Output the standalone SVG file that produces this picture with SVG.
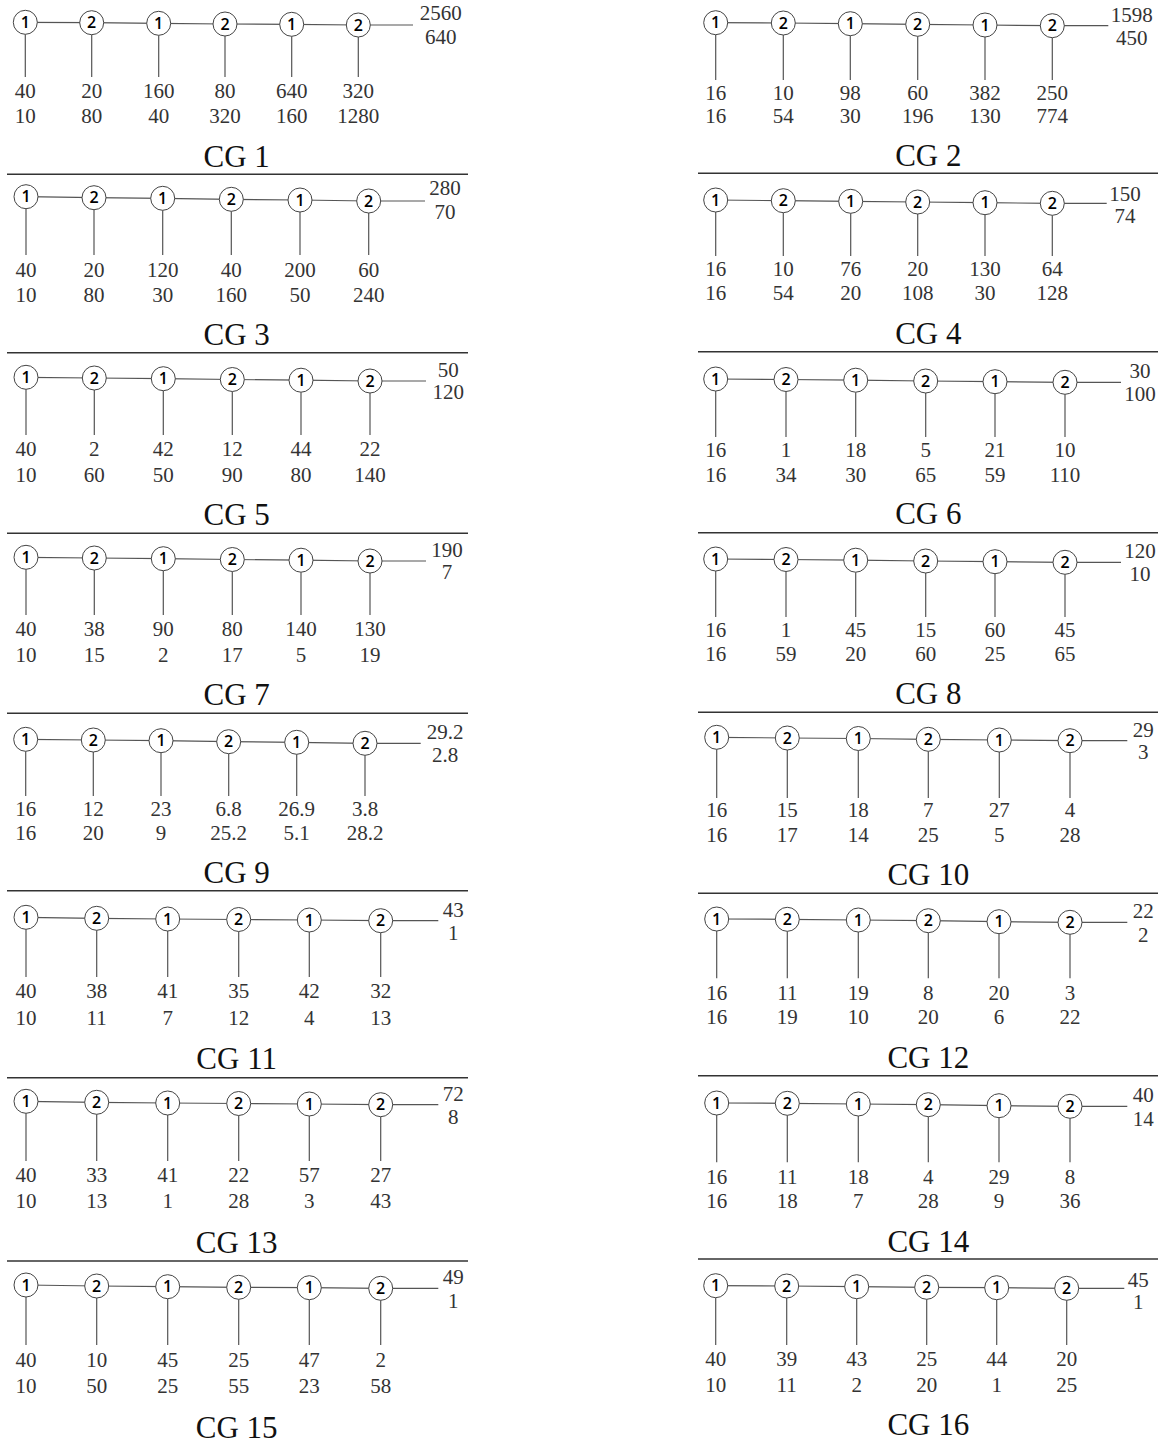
<svg xmlns="http://www.w3.org/2000/svg" width="1165" height="1443" viewBox="0 0 1165 1443">
<style>
.node circle{fill:#fff;stroke:#444;stroke-width:1}
.node text{font-family:"Open Sans","Liberation Sans",sans-serif;font-weight:600;font-size:16px;fill:#000;text-anchor:middle}
.conn path{fill:none;stroke:#555;stroke-width:1.2}
.sep line{stroke:#333;stroke-width:1.5}
.val text{font-family:"Liberation Serif","DejaVu Serif",serif;font-size:21px;fill:#333;text-anchor:middle}
.ttl text{font-family:"Liberation Serif","DejaVu Serif",serif;font-size:31px;fill:#111;text-anchor:middle}
</style>
<rect width="1165" height="1443" fill="#fff"/>
<g class="sep">
<line x1="7" y1="174.3" x2="468" y2="174.3"/><line x1="7" y1="352.7" x2="468" y2="352.7"/><line x1="7" y1="533.3" x2="468" y2="533.3"/><line x1="7" y1="713.3" x2="468" y2="713.3"/><line x1="7" y1="890.7" x2="468" y2="890.7"/><line x1="7" y1="1077.7" x2="468" y2="1077.7"/><line x1="7" y1="1261" x2="468" y2="1261"/>
<line x1="698" y1="173.3" x2="1158" y2="173.3"/><line x1="698" y1="351.7" x2="1158" y2="351.7"/><line x1="698" y1="532.7" x2="1158" y2="532.7"/><line x1="698" y1="712.3" x2="1158" y2="712.3"/><line x1="698" y1="893.3" x2="1158" y2="893.3"/><line x1="698" y1="1075.7" x2="1158" y2="1075.7"/><line x1="698" y1="1259" x2="1158" y2="1259"/>
</g>
<g class="conn" id="connectors">
<path d="M25.3 22.3L91.7 22.7L158.7 23.3L225 24L291.7 24.3L358.3 25L413 25M25.3 34.3V77M91.7 34.7V77M158.7 35.3V77M225 36V77M291.7 36.3V77M358.3 37V77"/>
<path d="M715.7 22.7L783.3 23L850.3 23.7L917.7 24.3L985 25L1052.3 25.7L1108.3 25.7M715.7 34.7V80M783.3 35V80M850.3 35.7V80M917.7 36.3V80M985 37V80M1052.3 37.7V80"/>
<path d="M26 196.7L94 197.7L162.7 198.3L231.3 199.3L300 200L368.7 201L425 201M26 208.7V255M94 209.7V255M162.7 210.3V255M231.3 211.3V255M300 212V255M368.7 213V255"/>
<path d="M715.7 200L783.3 200.7L850.7 201.3L917.7 202L985 202.7L1052.3 203.3L1106.7 203.3M715.7 212V256M783.3 212.7V256M850.7 213.3V256M917.7 214V256M985 214.7V256M1052.3 215.3V256"/>
<path d="M26 377.3L94.3 378L163.3 378.7L232.3 379.5L301 380.2L370 381L426 381M26 389.3V435M94.3 390V435M163.3 390.7V435M232.3 391.5V435M301 392.2V435M370 393V435"/>
<path d="M715.7 379L786 379.5L855.7 380.2L925.7 381L995 381.7L1065 382.3L1121 382.3M715.7 391V437M786 391.5V437M855.7 392.2V437M925.7 393V437M995 393.7V437M1065 394.3V437"/>
<path d="M26 557.3L94.3 558L163.3 558.7L232.3 559.5L301 560.2L370 561L426 561M26 569.3V615M94.3 570V615M163.3 570.7V615M232.3 571.5V615M301 572.2V615M370 573V615"/>
<path d="M715.7 559L786 559.5L855.7 560.2L925.7 561L995 561.7L1065 562.3L1121 562.3M715.7 571V617M786 571.5V617M855.7 572.2V617M925.7 573V617M995 573.7V617M1065 574.3V617"/>
<path d="M25.7 739.3L93.3 740L161 740.7L228.7 741.7L296.7 742.3L365 743.3L420.7 743.3M25.7 751.3V796M93.3 752V796M161 752.7V796M228.7 753.7V796M296.7 754.3V796M365 755.3V796"/>
<path d="M716.7 737.3L787.3 738L858.3 738.5L928.3 739.3L999.3 740L1070 740.7L1127.3 740.7M716.7 749.3V798M787.3 750V798M858.3 750.5V798M928.3 751.3V798M999.3 752V798M1070 752.7V798"/>
<path d="M26 917.3L96.7 918.3L167.7 919L238.7 919.5L309.3 920L380.7 920.7L438.3 920.7M26 929.3V977M96.7 930.3V977M167.7 931V977M238.7 931.5V977M309.3 932V977M380.7 932.7V977"/>
<path d="M716.7 919L787.3 919.3L858.3 920L928.3 920.7L999 921.7L1070 922.3L1127.3 922.3M716.7 931V978.3M787.3 931.3V978.3M858.3 932V978.3M928.3 932.7V978.3M999 933.7V978.3M1070 934.3V978.3"/>
<path d="M26 1101.3L96.7 1102.3L167.7 1103L238.7 1103.5L309.3 1104L380.7 1104.7L438.3 1104.7M26 1113.3V1161M96.7 1114.3V1161M167.7 1115V1161M238.7 1115.5V1161M309.3 1116V1161M380.7 1116.7V1161"/>
<path d="M716.7 1103L787.3 1103.3L858.3 1104L928.3 1104.7L999 1105.7L1070 1106.3L1127.3 1106.3M716.7 1115V1162.3M787.3 1115.3V1162.3M858.3 1116V1162.3M928.3 1116.7V1162.3M999 1117.7V1162.3M1070 1118.3V1162.3"/>
<path d="M26 1285L96.7 1286L167.7 1286.7L238.7 1287.3L309.3 1287.7L380.7 1288.3L438.3 1288.3M26 1297V1345M96.7 1298V1345M167.7 1298.7V1345M238.7 1299.3V1345M309.3 1299.7V1345M380.7 1300.3V1345"/>
<path d="M715.7 1285.7L786.7 1286L856.7 1286.7L926.7 1287.3L996.7 1287.7L1066.7 1288.3L1124.3 1288.3M715.7 1297.7V1345M786.7 1298V1345M856.7 1298.7V1345M926.7 1299.3V1345M996.7 1299.7V1345M1066.7 1300.3V1345"/>
</g>
<g id="nodes">
<g id="cg1-n1" class="node"><circle cx="25.3" cy="22.3" r="12"/><text x="25.3" y="28">1</text></g>
<g id="cg1-n2" class="node"><circle cx="91.7" cy="22.7" r="12"/><text x="91.7" y="28.4">2</text></g>
<g id="cg1-n3" class="node"><circle cx="158.7" cy="23.3" r="12"/><text x="158.7" y="29">1</text></g>
<g id="cg1-n4" class="node"><circle cx="225" cy="24" r="12"/><text x="225" y="29.7">2</text></g>
<g id="cg1-n5" class="node"><circle cx="291.7" cy="24.3" r="12"/><text x="291.7" y="30">1</text></g>
<g id="cg1-n6" class="node"><circle cx="358.3" cy="25" r="12"/><text x="358.3" y="30.7">2</text></g>
<g id="cg2-n1" class="node"><circle cx="715.7" cy="22.7" r="12"/><text x="715.7" y="28.4">1</text></g>
<g id="cg2-n2" class="node"><circle cx="783.3" cy="23" r="12"/><text x="783.3" y="28.7">2</text></g>
<g id="cg2-n3" class="node"><circle cx="850.3" cy="23.7" r="12"/><text x="850.3" y="29.4">1</text></g>
<g id="cg2-n4" class="node"><circle cx="917.7" cy="24.3" r="12"/><text x="917.7" y="30">2</text></g>
<g id="cg2-n5" class="node"><circle cx="985" cy="25" r="12"/><text x="985" y="30.7">1</text></g>
<g id="cg2-n6" class="node"><circle cx="1052.3" cy="25.7" r="12"/><text x="1052.3" y="31.4">2</text></g>
<g id="cg3-n1" class="node"><circle cx="26" cy="196.7" r="12"/><text x="26" y="202.4">1</text></g>
<g id="cg3-n2" class="node"><circle cx="94" cy="197.7" r="12"/><text x="94" y="203.4">2</text></g>
<g id="cg3-n3" class="node"><circle cx="162.7" cy="198.3" r="12"/><text x="162.7" y="204">1</text></g>
<g id="cg3-n4" class="node"><circle cx="231.3" cy="199.3" r="12"/><text x="231.3" y="205">2</text></g>
<g id="cg3-n5" class="node"><circle cx="300" cy="200" r="12"/><text x="300" y="205.7">1</text></g>
<g id="cg3-n6" class="node"><circle cx="368.7" cy="201" r="12"/><text x="368.7" y="206.7">2</text></g>
<g id="cg4-n1" class="node"><circle cx="715.7" cy="200" r="12"/><text x="715.7" y="205.7">1</text></g>
<g id="cg4-n2" class="node"><circle cx="783.3" cy="200.7" r="12"/><text x="783.3" y="206.4">2</text></g>
<g id="cg4-n3" class="node"><circle cx="850.7" cy="201.3" r="12"/><text x="850.7" y="207">1</text></g>
<g id="cg4-n4" class="node"><circle cx="917.7" cy="202" r="12"/><text x="917.7" y="207.7">2</text></g>
<g id="cg4-n5" class="node"><circle cx="985" cy="202.7" r="12"/><text x="985" y="208.4">1</text></g>
<g id="cg4-n6" class="node"><circle cx="1052.3" cy="203.3" r="12"/><text x="1052.3" y="209">2</text></g>
<g id="cg5-n1" class="node"><circle cx="26" cy="377.3" r="12"/><text x="26" y="383">1</text></g>
<g id="cg5-n2" class="node"><circle cx="94.3" cy="378" r="12"/><text x="94.3" y="383.7">2</text></g>
<g id="cg5-n3" class="node"><circle cx="163.3" cy="378.7" r="12"/><text x="163.3" y="384.4">1</text></g>
<g id="cg5-n4" class="node"><circle cx="232.3" cy="379.5" r="12"/><text x="232.3" y="385.2">2</text></g>
<g id="cg5-n5" class="node"><circle cx="301" cy="380.2" r="12"/><text x="301" y="385.9">1</text></g>
<g id="cg5-n6" class="node"><circle cx="370" cy="381" r="12"/><text x="370" y="386.7">2</text></g>
<g id="cg6-n1" class="node"><circle cx="715.7" cy="379" r="12"/><text x="715.7" y="384.7">1</text></g>
<g id="cg6-n2" class="node"><circle cx="786" cy="379.5" r="12"/><text x="786" y="385.2">2</text></g>
<g id="cg6-n3" class="node"><circle cx="855.7" cy="380.2" r="12"/><text x="855.7" y="385.9">1</text></g>
<g id="cg6-n4" class="node"><circle cx="925.7" cy="381" r="12"/><text x="925.7" y="386.7">2</text></g>
<g id="cg6-n5" class="node"><circle cx="995" cy="381.7" r="12"/><text x="995" y="387.4">1</text></g>
<g id="cg6-n6" class="node"><circle cx="1065" cy="382.3" r="12"/><text x="1065" y="388">2</text></g>
<g id="cg7-n1" class="node"><circle cx="26" cy="557.3" r="12"/><text x="26" y="563">1</text></g>
<g id="cg7-n2" class="node"><circle cx="94.3" cy="558" r="12"/><text x="94.3" y="563.7">2</text></g>
<g id="cg7-n3" class="node"><circle cx="163.3" cy="558.7" r="12"/><text x="163.3" y="564.4">1</text></g>
<g id="cg7-n4" class="node"><circle cx="232.3" cy="559.5" r="12"/><text x="232.3" y="565.2">2</text></g>
<g id="cg7-n5" class="node"><circle cx="301" cy="560.2" r="12"/><text x="301" y="565.9">1</text></g>
<g id="cg7-n6" class="node"><circle cx="370" cy="561" r="12"/><text x="370" y="566.7">2</text></g>
<g id="cg8-n1" class="node"><circle cx="715.7" cy="559" r="12"/><text x="715.7" y="564.7">1</text></g>
<g id="cg8-n2" class="node"><circle cx="786" cy="559.5" r="12"/><text x="786" y="565.2">2</text></g>
<g id="cg8-n3" class="node"><circle cx="855.7" cy="560.2" r="12"/><text x="855.7" y="565.9">1</text></g>
<g id="cg8-n4" class="node"><circle cx="925.7" cy="561" r="12"/><text x="925.7" y="566.7">2</text></g>
<g id="cg8-n5" class="node"><circle cx="995" cy="561.7" r="12"/><text x="995" y="567.4">1</text></g>
<g id="cg8-n6" class="node"><circle cx="1065" cy="562.3" r="12"/><text x="1065" y="568">2</text></g>
<g id="cg9-n1" class="node"><circle cx="25.7" cy="739.3" r="12"/><text x="25.7" y="745">1</text></g>
<g id="cg9-n2" class="node"><circle cx="93.3" cy="740" r="12"/><text x="93.3" y="745.7">2</text></g>
<g id="cg9-n3" class="node"><circle cx="161" cy="740.7" r="12"/><text x="161" y="746.4">1</text></g>
<g id="cg9-n4" class="node"><circle cx="228.7" cy="741.7" r="12"/><text x="228.7" y="747.4">2</text></g>
<g id="cg9-n5" class="node"><circle cx="296.7" cy="742.3" r="12"/><text x="296.7" y="748">1</text></g>
<g id="cg9-n6" class="node"><circle cx="365" cy="743.3" r="12"/><text x="365" y="749">2</text></g>
<g id="cg10-n1" class="node"><circle cx="716.7" cy="737.3" r="12"/><text x="716.7" y="743">1</text></g>
<g id="cg10-n2" class="node"><circle cx="787.3" cy="738" r="12"/><text x="787.3" y="743.7">2</text></g>
<g id="cg10-n3" class="node"><circle cx="858.3" cy="738.5" r="12"/><text x="858.3" y="744.2">1</text></g>
<g id="cg10-n4" class="node"><circle cx="928.3" cy="739.3" r="12"/><text x="928.3" y="745">2</text></g>
<g id="cg10-n5" class="node"><circle cx="999.3" cy="740" r="12"/><text x="999.3" y="745.7">1</text></g>
<g id="cg10-n6" class="node"><circle cx="1070" cy="740.7" r="12"/><text x="1070" y="746.4">2</text></g>
<g id="cg11-n1" class="node"><circle cx="26" cy="917.3" r="12"/><text x="26" y="923">1</text></g>
<g id="cg11-n2" class="node"><circle cx="96.7" cy="918.3" r="12"/><text x="96.7" y="924">2</text></g>
<g id="cg11-n3" class="node"><circle cx="167.7" cy="919" r="12"/><text x="167.7" y="924.7">1</text></g>
<g id="cg11-n4" class="node"><circle cx="238.7" cy="919.5" r="12"/><text x="238.7" y="925.2">2</text></g>
<g id="cg11-n5" class="node"><circle cx="309.3" cy="920" r="12"/><text x="309.3" y="925.7">1</text></g>
<g id="cg11-n6" class="node"><circle cx="380.7" cy="920.7" r="12"/><text x="380.7" y="926.4">2</text></g>
<g id="cg12-n1" class="node"><circle cx="716.7" cy="919" r="12"/><text x="716.7" y="924.7">1</text></g>
<g id="cg12-n2" class="node"><circle cx="787.3" cy="919.3" r="12"/><text x="787.3" y="925">2</text></g>
<g id="cg12-n3" class="node"><circle cx="858.3" cy="920" r="12"/><text x="858.3" y="925.7">1</text></g>
<g id="cg12-n4" class="node"><circle cx="928.3" cy="920.7" r="12"/><text x="928.3" y="926.4">2</text></g>
<g id="cg12-n5" class="node"><circle cx="999" cy="921.7" r="12"/><text x="999" y="927.4">1</text></g>
<g id="cg12-n6" class="node"><circle cx="1070" cy="922.3" r="12"/><text x="1070" y="928">2</text></g>
<g id="cg13-n1" class="node"><circle cx="26" cy="1101.3" r="12"/><text x="26" y="1107">1</text></g>
<g id="cg13-n2" class="node"><circle cx="96.7" cy="1102.3" r="12"/><text x="96.7" y="1108">2</text></g>
<g id="cg13-n3" class="node"><circle cx="167.7" cy="1103" r="12"/><text x="167.7" y="1108.7">1</text></g>
<g id="cg13-n4" class="node"><circle cx="238.7" cy="1103.5" r="12"/><text x="238.7" y="1109.2">2</text></g>
<g id="cg13-n5" class="node"><circle cx="309.3" cy="1104" r="12"/><text x="309.3" y="1109.7">1</text></g>
<g id="cg13-n6" class="node"><circle cx="380.7" cy="1104.7" r="12"/><text x="380.7" y="1110.4">2</text></g>
<g id="cg14-n1" class="node"><circle cx="716.7" cy="1103" r="12"/><text x="716.7" y="1108.7">1</text></g>
<g id="cg14-n2" class="node"><circle cx="787.3" cy="1103.3" r="12"/><text x="787.3" y="1109">2</text></g>
<g id="cg14-n3" class="node"><circle cx="858.3" cy="1104" r="12"/><text x="858.3" y="1109.7">1</text></g>
<g id="cg14-n4" class="node"><circle cx="928.3" cy="1104.7" r="12"/><text x="928.3" y="1110.4">2</text></g>
<g id="cg14-n5" class="node"><circle cx="999" cy="1105.7" r="12"/><text x="999" y="1111.4">1</text></g>
<g id="cg14-n6" class="node"><circle cx="1070" cy="1106.3" r="12"/><text x="1070" y="1112">2</text></g>
<g id="cg15-n1" class="node"><circle cx="26" cy="1285" r="12"/><text x="26" y="1290.7">1</text></g>
<g id="cg15-n2" class="node"><circle cx="96.7" cy="1286" r="12"/><text x="96.7" y="1291.7">2</text></g>
<g id="cg15-n3" class="node"><circle cx="167.7" cy="1286.7" r="12"/><text x="167.7" y="1292.4">1</text></g>
<g id="cg15-n4" class="node"><circle cx="238.7" cy="1287.3" r="12"/><text x="238.7" y="1293">2</text></g>
<g id="cg15-n5" class="node"><circle cx="309.3" cy="1287.7" r="12"/><text x="309.3" y="1293.4">1</text></g>
<g id="cg15-n6" class="node"><circle cx="380.7" cy="1288.3" r="12"/><text x="380.7" y="1294">2</text></g>
<g id="cg16-n1" class="node"><circle cx="715.7" cy="1285.7" r="12"/><text x="715.7" y="1291.4">1</text></g>
<g id="cg16-n2" class="node"><circle cx="786.7" cy="1286" r="12"/><text x="786.7" y="1291.7">2</text></g>
<g id="cg16-n3" class="node"><circle cx="856.7" cy="1286.7" r="12"/><text x="856.7" y="1292.4">1</text></g>
<g id="cg16-n4" class="node"><circle cx="926.7" cy="1287.3" r="12"/><text x="926.7" y="1293">2</text></g>
<g id="cg16-n5" class="node"><circle cx="996.7" cy="1287.7" r="12"/><text x="996.7" y="1293.4">1</text></g>
<g id="cg16-n6" class="node"><circle cx="1066.7" cy="1288.3" r="12"/><text x="1066.7" y="1294">2</text></g>
</g>
<g class="val" id="values">
<text x="25.3" y="98.3">40</text><text x="91.7" y="98.3">20</text><text x="158.7" y="98.3">160</text><text x="225" y="98.3">80</text><text x="291.7" y="98.3">640</text><text x="358.3" y="98.3">320</text>
<text x="25.3" y="123">10</text><text x="91.7" y="123">80</text><text x="158.7" y="123">40</text><text x="225" y="123">320</text><text x="291.7" y="123">160</text><text x="358.3" y="123">1280</text>
<text x="440.7" y="20">2560</text><text x="440.7" y="44.3">640</text>
<text x="715.7" y="100">16</text><text x="783.3" y="100">10</text><text x="850.3" y="100">98</text><text x="917.7" y="100">60</text><text x="985" y="100">382</text><text x="1052.3" y="100">250</text>
<text x="715.7" y="123.3">16</text><text x="783.3" y="123.3">54</text><text x="850.3" y="123.3">30</text><text x="917.7" y="123.3">196</text><text x="985" y="123.3">130</text><text x="1052.3" y="123.3">774</text>
<text x="1131.7" y="21.5">1598</text><text x="1131.7" y="44.5">450</text>
<text x="26" y="276.7">40</text><text x="94" y="276.7">20</text><text x="162.7" y="276.7">120</text><text x="231.3" y="276.7">40</text><text x="300" y="276.7">200</text><text x="368.7" y="276.7">60</text>
<text x="26" y="301.7">10</text><text x="94" y="301.7">80</text><text x="162.7" y="301.7">30</text><text x="231.3" y="301.7">160</text><text x="300" y="301.7">50</text><text x="368.7" y="301.7">240</text>
<text x="445" y="195">280</text><text x="445" y="219.3">70</text>
<text x="715.7" y="276">16</text><text x="783.3" y="276">10</text><text x="850.7" y="276">76</text><text x="917.7" y="276">20</text><text x="985" y="276">130</text><text x="1052.3" y="276">64</text>
<text x="715.7" y="300">16</text><text x="783.3" y="300">54</text><text x="850.7" y="300">20</text><text x="917.7" y="300">108</text><text x="985" y="300">30</text><text x="1052.3" y="300">128</text>
<text x="1125" y="200.7">150</text><text x="1125" y="223.3">74</text>
<text x="26" y="456">40</text><text x="94.3" y="456">2</text><text x="163.3" y="456">42</text><text x="232.3" y="456">12</text><text x="301" y="456">44</text><text x="370" y="456">22</text>
<text x="26" y="481.7">10</text><text x="94.3" y="481.7">60</text><text x="163.3" y="481.7">50</text><text x="232.3" y="481.7">90</text><text x="301" y="481.7">80</text><text x="370" y="481.7">140</text>
<text x="448.3" y="376.7">50</text><text x="448.3" y="399.3">120</text>
<text x="715.7" y="456.7">16</text><text x="786" y="456.7">1</text><text x="855.7" y="456.7">18</text><text x="925.7" y="456.7">5</text><text x="995" y="456.7">21</text><text x="1065" y="456.7">10</text>
<text x="715.7" y="481.7">16</text><text x="786" y="481.7">34</text><text x="855.7" y="481.7">30</text><text x="925.7" y="481.7">65</text><text x="995" y="481.7">59</text><text x="1065" y="481.7">110</text>
<text x="1140" y="378.3">30</text><text x="1140" y="400.7">100</text>
<text x="26" y="636">40</text><text x="94.3" y="636">38</text><text x="163.3" y="636">90</text><text x="232.3" y="636">80</text><text x="301" y="636">140</text><text x="370" y="636">130</text>
<text x="26" y="661.7">10</text><text x="94.3" y="661.7">15</text><text x="163.3" y="661.7">2</text><text x="232.3" y="661.7">17</text><text x="301" y="661.7">5</text><text x="370" y="661.7">19</text>
<text x="447" y="556.7">190</text><text x="447" y="579.3">7</text>
<text x="715.7" y="636.7">16</text><text x="786" y="636.7">1</text><text x="855.7" y="636.7">45</text><text x="925.7" y="636.7">15</text><text x="995" y="636.7">60</text><text x="1065" y="636.7">45</text>
<text x="715.7" y="660.7">16</text><text x="786" y="660.7">59</text><text x="855.7" y="660.7">20</text><text x="925.7" y="660.7">60</text><text x="995" y="660.7">25</text><text x="1065" y="660.7">65</text>
<text x="1140" y="558.3">120</text><text x="1140" y="580.7">10</text>
<text x="25.7" y="815.7">16</text><text x="93.3" y="815.7">12</text><text x="161" y="815.7">23</text><text x="228.7" y="815.7">6.8</text><text x="296.7" y="815.7">26.9</text><text x="365" y="815.7">3.8</text>
<text x="25.7" y="840">16</text><text x="93.3" y="840">20</text><text x="161" y="840">9</text><text x="228.7" y="840">25.2</text><text x="296.7" y="840">5.1</text><text x="365" y="840">28.2</text>
<text x="445" y="739.3">29.2</text><text x="445" y="761.7">2.8</text>
<text x="716.7" y="816.7">16</text><text x="787.3" y="816.7">15</text><text x="858.3" y="816.7">18</text><text x="928.3" y="816.7">7</text><text x="999.3" y="816.7">27</text><text x="1070" y="816.7">4</text>
<text x="716.7" y="842.3">16</text><text x="787.3" y="842.3">17</text><text x="858.3" y="842.3">14</text><text x="928.3" y="842.3">25</text><text x="999.3" y="842.3">5</text><text x="1070" y="842.3">28</text>
<text x="1143.3" y="737.3">29</text><text x="1143.3" y="759.3">3</text>
<text x="26" y="998.3">40</text><text x="96.7" y="998.3">38</text><text x="167.7" y="998.3">41</text><text x="238.7" y="998.3">35</text><text x="309.3" y="998.3">42</text><text x="380.7" y="998.3">32</text>
<text x="26" y="1025">10</text><text x="96.7" y="1025">11</text><text x="167.7" y="1025">7</text><text x="238.7" y="1025">12</text><text x="309.3" y="1025">4</text><text x="380.7" y="1025">13</text>
<text x="453.3" y="916.7">43</text><text x="453.3" y="940">1</text>
<text x="716.7" y="1000">16</text><text x="787.3" y="1000">11</text><text x="858.3" y="1000">19</text><text x="928.3" y="1000">8</text><text x="999" y="1000">20</text><text x="1070" y="1000">3</text>
<text x="716.7" y="1024.3">16</text><text x="787.3" y="1024.3">19</text><text x="858.3" y="1024.3">10</text><text x="928.3" y="1024.3">20</text><text x="999" y="1024.3">6</text><text x="1070" y="1024.3">22</text>
<text x="1143.3" y="918.3">22</text><text x="1143.3" y="941.7">2</text>
<text x="26" y="1181.5">40</text><text x="96.7" y="1181.5">33</text><text x="167.7" y="1181.5">41</text><text x="238.7" y="1181.5">22</text><text x="309.3" y="1181.5">57</text><text x="380.7" y="1181.5">27</text>
<text x="26" y="1208">10</text><text x="96.7" y="1208">13</text><text x="167.7" y="1208">1</text><text x="238.7" y="1208">28</text><text x="309.3" y="1208">3</text><text x="380.7" y="1208">43</text>
<text x="453.3" y="1100.7">72</text><text x="453.3" y="1124">8</text>
<text x="716.7" y="1184">16</text><text x="787.3" y="1184">11</text><text x="858.3" y="1184">18</text><text x="928.3" y="1184">4</text><text x="999" y="1184">29</text><text x="1070" y="1184">8</text>
<text x="716.7" y="1208.3">16</text><text x="787.3" y="1208.3">18</text><text x="858.3" y="1208.3">7</text><text x="928.3" y="1208.3">28</text><text x="999" y="1208.3">9</text><text x="1070" y="1208.3">36</text>
<text x="1143.3" y="1102.3">40</text><text x="1143.3" y="1125.7">14</text>
<text x="26" y="1366.7">40</text><text x="96.7" y="1366.7">10</text><text x="167.7" y="1366.7">45</text><text x="238.7" y="1366.7">25</text><text x="309.3" y="1366.7">47</text><text x="380.7" y="1366.7">2</text>
<text x="26" y="1393.3">10</text><text x="96.7" y="1393.3">50</text><text x="167.7" y="1393.3">25</text><text x="238.7" y="1393.3">55</text><text x="309.3" y="1393.3">23</text><text x="380.7" y="1393.3">58</text>
<text x="453.3" y="1284.3">49</text><text x="453.3" y="1307.7">1</text>
<text x="715.7" y="1365.7">40</text><text x="786.7" y="1365.7">39</text><text x="856.7" y="1365.7">43</text><text x="926.7" y="1365.7">25</text><text x="996.7" y="1365.7">44</text><text x="1066.7" y="1365.7">20</text>
<text x="715.7" y="1392.3">10</text><text x="786.7" y="1392.3">11</text><text x="856.7" y="1392.3">2</text><text x="926.7" y="1392.3">20</text><text x="996.7" y="1392.3">1</text><text x="1066.7" y="1392.3">25</text>
<text x="1138.3" y="1286.7">45</text><text x="1138.3" y="1309">1</text>
</g>
<g class="ttl" id="titles">
<text x="236.7" y="166.7">CG 1</text><text x="928.3" y="165.7">CG 2</text>
<text x="236.7" y="345">CG 3</text><text x="928.3" y="344">CG 4</text>
<text x="236.7" y="525">CG 5</text><text x="928.3" y="524">CG 6</text>
<text x="236.7" y="705">CG 7</text><text x="928.3" y="704">CG 8</text>
<text x="236.7" y="883.3">CG 9</text><text x="928.3" y="885">CG 10</text>
<text x="236.7" y="1069.3">CG 11</text><text x="928.3" y="1068.3">CG 12</text>
<text x="236.7" y="1253.3">CG 13</text><text x="928.3" y="1252.3">CG 14</text>
<text x="236.7" y="1437.7">CG 15</text><text x="928.3" y="1435">CG 16</text>
</g>
</svg>
